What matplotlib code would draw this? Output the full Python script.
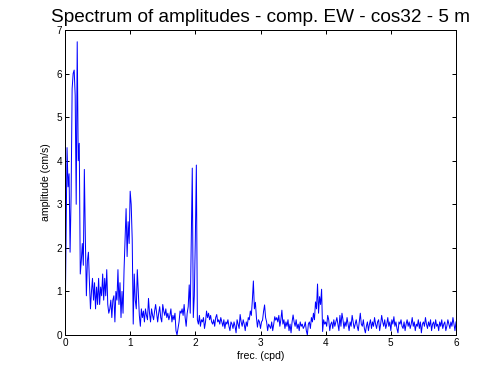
import numpy as np
import matplotlib
matplotlib.use("Agg")
import matplotlib.pyplot as plt

plt.rcParams['font.family'] = ['Liberation Sans', 'DejaVu Sans']

df = 1.0 / 64.0
amplitude = [
    0.0, 2.2, 4.3, 3.4, 3.7, 1.9, 3.2, 5.65, 6.0, 6.08, 5.5, 3.0, 6.73, 4.0, 4.4, 1.4,
    1.7, 2.1, 1.6, 3.8, 2.2, 0.9, 1.7, 1.9, 1.2, 0.6, 1.0, 1.3, 0.8, 1.2, 0.6, 1.1,
    0.7, 1.3, 0.7, 1.1, 0.9, 1.4, 0.8, 1.3, 0.9, 1.5, 0.7, 0.5, 0.6, 0.8, 0.4, 0.8,
    0.9, 0.3, 1.0, 0.8, 1.5, 0.7, 1.2, 0.4, 1.0, 0.5, 1.5, 2.2, 2.9, 1.8, 2.6, 2.1,
    3.3, 3.0, 2.2, 0.25, 1.4, 0.8, 0.6, 1.5, 1.0, 0.45, 0.2, 0.6, 0.4, 0.55, 0.3, 0.6,
    0.45, 0.35, 0.84, 0.5, 0.3, 0.6, 0.45, 0.35, 0.55, 0.7, 0.5, 0.3, 0.5, 0.65, 0.4, 0.3,
    0.7, 0.55, 0.45, 0.6, 0.4, 0.5, 0.35, 0.45, 0.6, 0.3, 0.45, 0.35, 0.5, 0.1, 0.0, 0.15,
    0.3, 0.55, 0.5, 0.6, 0.45, 0.7, 0.4, 0.2, 0.5, 0.65, 1.15, 0.5, 2.14, 3.83, 0.4, 0.9,
    2.2, 3.9, 0.35, 0.25, 0.45, 0.2, 0.35, 0.3, 0.4, 0.15, 0.3, 0.55, 0.4, 0.5, 0.35, 0.45,
    0.3, 0.25, 0.35, 0.2, 0.4, 0.47, 0.3, 0.35, 0.25, 0.4, 0.3, 0.2, 0.35, 0.15, 0.3, 0.25,
    0.35, 0.2, 0.1, 0.3, 0.25, 0.15, 0.3, 0.2, 0.05, 0.35, 0.25, 0.15, 0.47, 0.3, 0.2, 0.35,
    0.25, 0.1, 0.3, 0.2, 0.4, 0.35, 0.55, 0.45, 0.8, 1.24, 0.6, 0.75, 0.4, 0.18, 0.35, 0.3,
    0.15, 0.3, 0.34, 0.54, 0.69, 0.4, 0.3, 0.1, 0.25, 0.2, 0.15, 0.3, 0.1, 0.25, 0.42, 0.34,
    0.4, 0.3, 0.45, 0.2, 0.35, 0.57, 0.25, 0.35, 0.15, 0.3, 0.2, 0.35, 0.1, 0.25, 0.05, 0.3,
    0.46, 0.3, 0.2, 0.35, 0.15, 0.25, 0.1, 0.3, 0.2, 0.25, 0.15, 0.2, 0.3, 0.1, 0.0, 0.25,
    0.3, 0.15, 0.4, 0.3, 0.5, 0.35, 0.76, 0.6, 1.17, 0.5, 0.88, 0.7, 1.05, 0.08, 0.35, 0.25,
    0.3, 0.2, 0.45, 0.35, 0.1, 0.25, 0.3, 0.15, 0.35, 0.2, 0.3, 0.4, 0.25, 0.1, 0.45, 0.2,
    0.5, 0.35, 0.15, 0.3, 0.2, 0.4, 0.25, 0.1, 0.3, 0.2, 0.45, 0.3, 0.15, 0.25, 0.35, 0.2,
    0.1, 0.3, 0.5, 0.25, 0.2, 0.35, 0.15, 0.05, 0.2, 0.3, 0.1, 0.25, 0.35, 0.15, 0.3, 0.2,
    0.4, 0.25, 0.15, 0.3, 0.35, 0.1, 0.25, 0.45, 0.3, 0.2, 0.35, 0.15, 0.25, 0.4, 0.2, 0.3,
    0.1, 0.35, 0.25, 0.42, 0.2, 0.3, 0.15, 0.05, 0.3, 0.25, 0.35, 0.2, 0.15, 0.3, 0.1, 0.25,
    0.35, 0.2, 0.3, 0.15, 0.25, 0.4, 0.2, 0.3, 0.1, 0.25, 0.2, 0.35, 0.15, 0.3, 0.05, 0.25,
    0.3, 0.2, 0.4, 0.25, 0.15, 0.3, 0.2, 0.35, 0.1, 0.25, 0.3, 0.15, 0.35, 0.2, 0.25, 0.1,
    0.3, 0.2, 0.35, 0.15, 0.25, 0.3, 0.1, 0.2, 0.35, 0.25, 0.15, 0.3, 0.2, 0.4, 0.25, 0.1, 0.3,
]
frequency = np.arange(len(amplitude)) * df

x_ticks = [0, 1, 2, 3, 4, 5, 6]
y_ticks = [0, 1, 2, 3, 4, 5, 6, 7]

title = "Spectrum of amplitudes - comp. EW - cos32 - 5 m"
xlabel = "frec. (cpd)"
ylabel = "amplitude (cm/s)"

fig = plt.figure(figsize=(7.0, 5.25), dpi=72)
ax = fig.add_axes([65/504, 43/378, 391/504, 305/378])
ax.plot(frequency, amplitude, color=(0, 0, 1), lw=1.0)
ax.set_xlim(0, 6)
ax.set_ylim(0, 7)
ax.set_xticks(x_ticks)
ax.set_yticks(y_ticks)
ax.tick_params(direction='in', length=4, width=1, top=True, right=True,
               labelsize=10, pad=3)
for s in ax.spines.values():
    s.set_linewidth(1)
ax.set_title(title, fontsize=19, pad=8)
ax.set_xlabel(xlabel, fontsize=10.5, labelpad=3)
ax.set_ylabel(ylabel, fontsize=10.5, labelpad=5)
fig.savefig("out.png", dpi=72, facecolor='white')
